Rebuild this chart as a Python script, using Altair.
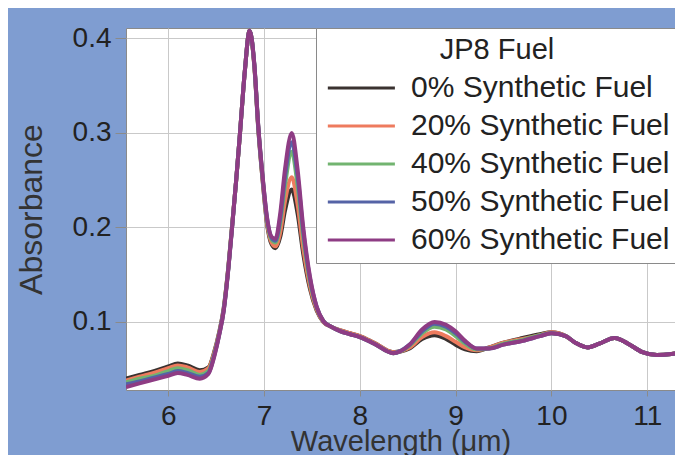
import altair as alt
import pandas as pd

wavelength = [5.56, 5.7, 5.85, 6.0, 6.1, 6.2, 6.33, 6.42, 6.48, 6.53, 6.58, 6.63, 6.67, 6.71, 6.75,
              6.8, 6.85, 6.9, 6.94, 6.99, 7.03, 7.08, 7.12, 7.17, 7.22, 7.29, 7.35, 7.41, 7.48, 7.55,
              7.62, 7.7, 7.8, 7.9, 8.0, 8.15, 8.35, 8.52, 8.65, 8.78, 8.9, 9.0, 9.1, 9.22, 9.35,
              9.5, 9.7, 9.88, 10.0, 10.15, 10.25, 10.38, 10.5, 10.66, 10.8, 10.95, 11.1, 11.25, 11.33, 11.4]

pct0 = [0.040, 0.044, 0.048, 0.053, 0.056, 0.054, 0.049, 0.052, 0.068, 0.088, 0.115, 0.160, 0.205, 0.250, 0.300,
        0.365, 0.408, 0.370, 0.305, 0.245, 0.205, 0.182, 0.178, 0.190, 0.218, 0.240, 0.215, 0.172, 0.135, 0.112,
        0.100, 0.095, 0.091, 0.088, 0.085, 0.078, 0.068, 0.072, 0.082, 0.086, 0.082, 0.076, 0.071, 0.069, 0.073,
        0.078, 0.083, 0.087, 0.089, 0.085, 0.078, 0.073, 0.077, 0.083, 0.077, 0.068, 0.065, 0.066, 0.069, 0.074]

pct20 = [0.038, 0.042, 0.046, 0.051, 0.054, 0.052, 0.047, 0.051, 0.067, 0.087, 0.114, 0.160, 0.205, 0.250, 0.300,
         0.365, 0.408, 0.370, 0.306, 0.246, 0.206, 0.184, 0.180, 0.195, 0.228, 0.253, 0.225, 0.178, 0.138, 0.113,
         0.100, 0.095, 0.091, 0.088, 0.085, 0.078, 0.068, 0.073, 0.084, 0.089, 0.085, 0.079, 0.073, 0.070, 0.073,
         0.078, 0.082, 0.086, 0.089, 0.085, 0.078, 0.073, 0.077, 0.083, 0.077, 0.068, 0.065, 0.066, 0.069, 0.074]

pct40 = [0.036, 0.040, 0.043, 0.048, 0.051, 0.049, 0.044, 0.048, 0.065, 0.086, 0.113, 0.159, 0.204, 0.250, 0.300,
         0.365, 0.408, 0.371, 0.307, 0.248, 0.209, 0.187, 0.184, 0.205, 0.245, 0.280, 0.245, 0.190, 0.143, 0.115,
         0.101, 0.095, 0.090, 0.087, 0.084, 0.077, 0.067, 0.075, 0.088, 0.095, 0.092, 0.085, 0.077, 0.071, 0.072,
         0.077, 0.081, 0.086, 0.088, 0.085, 0.078, 0.073, 0.077, 0.083, 0.077, 0.068, 0.065, 0.066, 0.068, 0.073]

pct50 = [0.034, 0.037, 0.041, 0.045, 0.048, 0.046, 0.042, 0.046, 0.064, 0.085, 0.112, 0.158, 0.203, 0.250, 0.300,
         0.365, 0.408, 0.372, 0.308, 0.249, 0.211, 0.189, 0.186, 0.210, 0.254, 0.290, 0.255, 0.196, 0.146, 0.116,
         0.101, 0.095, 0.090, 0.087, 0.084, 0.077, 0.067, 0.076, 0.090, 0.098, 0.095, 0.088, 0.079, 0.072, 0.072,
         0.076, 0.080, 0.085, 0.088, 0.085, 0.078, 0.073, 0.077, 0.083, 0.077, 0.068, 0.065, 0.066, 0.068, 0.073]

pct60 = [0.031, 0.035, 0.039, 0.043, 0.046, 0.044, 0.040, 0.045, 0.063, 0.085, 0.112, 0.158, 0.203, 0.250, 0.300,
         0.365, 0.408, 0.372, 0.308, 0.250, 0.212, 0.190, 0.188, 0.215, 0.262, 0.300, 0.262, 0.200, 0.148, 0.116,
         0.101, 0.095, 0.090, 0.087, 0.084, 0.077, 0.067, 0.076, 0.092, 0.100, 0.097, 0.090, 0.080, 0.072, 0.072,
         0.076, 0.080, 0.085, 0.088, 0.085, 0.078, 0.073, 0.077, 0.083, 0.077, 0.068, 0.065, 0.066, 0.068, 0.073]

series_names = ["0% Synthetic Fuel", "20% Synthetic Fuel", "40% Synthetic Fuel",
                "50% Synthetic Fuel", "60% Synthetic Fuel"]
series_values = [pct0, pct20, pct40, pct50, pct60]
colors = ["#3a3230", "#ee7b5e", "#72b470", "#5563a6", "#8e3c84"]

x_ticks = [6, 7, 8, 9, 10, 11]
y_ticks = [0.1, 0.2, 0.3, 0.4]

rows = []
for name, vals in zip(series_names, series_values):
    for w, v in zip(wavelength, vals):
        rows.append({"wavelength": w, "absorbance": v, "fuel": name})
df = pd.DataFrame(rows)

FONT = "Liberation Sans"

chart = alt.Chart(df).mark_line(strokeWidth=4, interpolate="monotone", clip=True).encode(
    x=alt.X("wavelength:Q",
            scale=alt.Scale(domain=[5.56, 11.29], nice=False, zero=False),
            axis=alt.Axis(values=x_ticks, title="Wavelength (μm)", format="d",
                          labelFontSize=28, titleFontSize=29, tickSize=6, labelPadding=6,
                          titlePadding=-3)),
    y=alt.Y("absorbance:Q",
            scale=alt.Scale(domain=[0.028, 0.411], nice=False, zero=False),
            axis=alt.Axis(values=y_ticks, title="Absorbance", format=".1f",
                          labelFontSize=28, titleFontSize=32, tickSize=11, labelPadding=4,
                          titlePadding=24)),
    color=alt.Color("fuel:N",
                    scale=alt.Scale(domain=series_names, range=colors),
                    legend=alt.Legend(title="JP8 Fuel", orient="none", legendX=190, legendY=0,
                                      fillColor="white", strokeColor="#8a8a8a", padding=8,
                                      titleFontSize=29, titleFontWeight="normal", titleAnchor="middle",
                                      titleColor="#222222", titlePadding=8,
                                      labelFontSize=30, labelColor="#222222", labelLimit=600,
                                      labelExpr="datum.label + '   '",
                                      symbolType="M-1,0H5", symbolSize=500, symbolStrokeWidth=3,
                                      labelOffset=57, rowPadding=8)),
).properties(
    width=549, height=362,
    autosize=alt.AutoSizeParams(type="none"),
    padding={"left": 118, "top": 20, "right": 0, "bottom": 65},
    background="#7f9dd1",
).configure_view(
    fill="white", stroke="#8a8a8a", strokeWidth=1
).configure_axis(
    labelFont=FONT, titleFont=FONT, labelColor="#222222", titleColor="#333333",
    titleFontWeight="normal", gridColor="#c9c9c9", gridWidth=1, tickColor="#8a8a8a",
    domain=False
).configure_legend(
    labelFont=FONT, titleFont=FONT
)

chart.save("out.html", embed_options={"renderer": "svg", "actions": False})
